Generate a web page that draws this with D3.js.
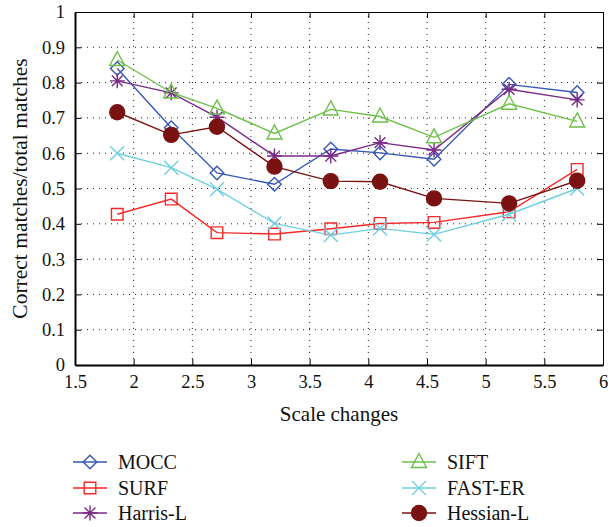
<!DOCTYPE html>
<html>
<head>
<script src="https://d3js.org/d3.v7.min.js"></script>
<style>
body { margin: 0; background: white; }
svg text { font-family: "Liberation Serif", "Times New Roman", serif; }
</style>
</head>
<body>
<div id="chart"></div>
<script>
// scale change values (x positions of samples)
const scales = [1.86, 2.32, 2.71, 3.2, 3.68, 4.1, 4.56, 5.2, 5.78];

const mocc    = [0.840, 0.672, 0.544, 0.512, 0.612, 0.601, 0.583, 0.795, 0.772];
const surf    = [0.427, 0.470, 0.375, 0.371, 0.386, 0.401, 0.404, 0.434, 0.554];
const harris  = [0.805, 0.771, 0.702, 0.592, 0.592, 0.630, 0.609, 0.781, 0.751];
const sift    = [0.864, 0.772, 0.727, 0.656, 0.724, 0.704, 0.645, 0.740, 0.690];
const fastEr  = [0.600, 0.559, 0.498, 0.401, 0.368, 0.387, 0.370, 0.427, 0.500];
const hessian = [0.716, 0.652, 0.675, 0.562, 0.521, 0.519, 0.472, 0.458, 0.522];

const seriesNames = ["MOCC", "SURF", "Harris-L", "SIFT", "FAST-ER", "Hessian-L"];
const xTicks = [1.5, 2, 2.5, 3, 3.5, 4, 4.5, 5, 5.5, 6];
const yTicks = [0, 0.1, 0.2, 0.3, 0.4, 0.5, 0.6, 0.7, 0.8, 0.9, 1];

const series = [
  {name: seriesNames[0], values: mocc,    color: "#3757b5", marker: "diamond"},
  {name: seriesNames[1], values: surf,    color: "#f42a2a", marker: "square"},
  {name: seriesNames[2], values: harris,  color: "#792a88", marker: "asterisk"},
  {name: seriesNames[3], values: sift,    color: "#6dc04a", marker: "triangle"},
  {name: seriesNames[4], values: fastEr,  color: "#6fcfdf", marker: "cross"},
  {name: seriesNames[5], values: hessian, color: "#7b1212", marker: "circle"}
];

const serif = "Liberation Serif, Times New Roman, serif";
const width = 610, height = 527;
const marginLeft = 75, marginRight = 7, marginTop = 12, marginBottom = 162;

const x = d3.scaleLinear().domain([1.5, 6]).range([marginLeft, width - marginRight]);
const y = d3.scaleLinear().domain([0, 1]).range([height - marginBottom, marginTop]);

// marker shapes
function markerPath(type) {
  const p = d3.path();
  if (type === "diamond") {
    const r = 6.8;
    p.moveTo(0, -r); p.lineTo(r, 0); p.lineTo(0, r); p.lineTo(-r, 0); p.closePath();
  } else if (type === "square") {
    const s = 5.8;
    p.rect(-s, -s, 2 * s, 2 * s);
  } else if (type === "triangle") {
    p.moveTo(0, -8.5); p.lineTo(7.5, 5.5); p.lineTo(-7.5, 5.5); p.closePath();
  } else if (type === "asterisk") {
    const r = 7.5, d = r * 0.72;
    p.moveTo(0, -r); p.lineTo(0, r);
    p.moveTo(-r, 0); p.lineTo(r, 0);
    p.moveTo(-d, -d); p.lineTo(d, d);
    p.moveTo(-d, d); p.lineTo(d, -d);
  } else if (type === "cross") {
    const d = 7;
    p.moveTo(-d, -d); p.lineTo(d, d);
    p.moveTo(-d, d); p.lineTo(d, -d);
  } else if (type === "circle") {
    p.arc(0, 0, 7.5, 0, 2 * Math.PI);
  }
  return p.toString();
}

function drawMarker(g, s, cx, cy) {
  g.append("path")
    .attr("transform", `translate(${cx},${cy})`)
    .attr("d", markerPath(s.marker))
    .attr("fill", s.marker === "circle" ? s.color : "none")
    .attr("stroke", s.color)
    .attr("stroke-width", 1.4);
}

const svg = d3.create("svg")
  .attr("width", width)
  .attr("height", height)
  .attr("viewBox", [0, 0, width, height]);

svg.append("rect").attr("width", width).attr("height", height).attr("fill", "white");

// dotted grid
svg.append("g")
  .selectAll("line")
  .data(xTicks.slice(1, -1))
  .join("line")
    .attr("x1", d => x(d)).attr("x2", d => x(d))
    .attr("y1", y(0)).attr("y2", y(1))
    .attr("stroke", "#222").attr("stroke-width", 1)
    .attr("stroke-dasharray", "1,5");
svg.append("g")
  .selectAll("line")
  .data(yTicks.slice(1, -1))
  .join("line")
    .attr("x1", x(1.5)).attr("x2", x(6))
    .attr("y1", d => y(d)).attr("y2", d => y(d))
    .attr("stroke", "#222").attr("stroke-width", 1)
    .attr("stroke-dasharray", "1,5");

// axes
const xAxis = svg.append("g")
  .attr("transform", `translate(0,${y(0)})`)
  .call(d3.axisBottom(x).tickValues(xTicks).tickFormat(d3.format("")).tickSizeInner(-6).tickSizeOuter(0).tickPadding(10))
  .attr("font-family", serif);
xAxis.selectAll("text").attr("font-size", 18.5).attr("fill", "#111");
xAxis.select(".domain").attr("stroke-width", 2);

const yAxis = svg.append("g")
  .attr("transform", `translate(${x(1.5)},0)`)
  .call(d3.axisLeft(y).tickValues(yTicks).tickFormat(d3.format("")).tickSizeInner(-6).tickSizeOuter(0).tickPadding(10))
  .attr("font-family", serif);
yAxis.selectAll("text").attr("font-size", 18.5).attr("fill", "#111");
yAxis.select(".domain").attr("stroke-width", 2);

svg.append("g")
  .attr("transform", `translate(0,${y(1)})`)
  .call(d3.axisTop(x).tickValues(xTicks).tickFormat("").tickSizeInner(-6).tickSizeOuter(0));
svg.append("g")
  .attr("transform", `translate(${x(6)},0)`)
  .call(d3.axisRight(y).tickValues(yTicks).tickFormat("").tickSizeInner(-6).tickSizeOuter(0));

// axis titles
svg.append("text")
  .attr("x", (x(1.5) + x(6)) / 2)
  .attr("y", 421)
  .attr("text-anchor", "middle")
  .attr("font-family", serif)
  .attr("font-size", 21)
  .attr("fill", "#111")
  .text("Scale changes");

svg.append("text")
  .attr("transform", `translate(27,${(y(0) + y(1)) / 2}) rotate(-90)`)
  .attr("text-anchor", "middle")
  .attr("font-family", serif)
  .attr("font-size", 21.5)
  .attr("fill", "#111")
  .text("Correct matches/total matches");

// lines and markers
const line = d3.line()
  .x((d, i) => x(scales[i]))
  .y(d => y(d));

series.forEach(s => {
  const g = svg.append("g");
  g.append("path")
    .datum(s.values)
    .attr("fill", "none")
    .attr("stroke", s.color)
    .attr("stroke-width", 1.4)
    .attr("d", line);
  s.values.forEach((v, i) => drawMarker(g, s, x(scales[i]), y(v)));
});

// legend
const legendRows = [462, 488, 513];
series.forEach((s, i) => {
  const col = Math.floor(i / 3), row = i % 3;
  const x0 = col === 0 ? 73 : 402;
  const ly = legendRows[row];
  const g = svg.append("g");
  g.append("line")
    .attr("x1", x0).attr("x2", x0 + 34)
    .attr("y1", ly).attr("y2", ly)
    .attr("stroke", s.color).attr("stroke-width", 1.4);
  drawMarker(g, s, x0 + 17, ly);
  g.append("text")
    .attr("x", x0 + 45)
    .attr("y", ly + 6.5)
    .attr("font-family", serif)
    .attr("font-size", 20)
    .attr("fill", "#111")
    .text(s.name);
});

document.getElementById("chart").appendChild(svg.node());
</script>
</body>
</html>
